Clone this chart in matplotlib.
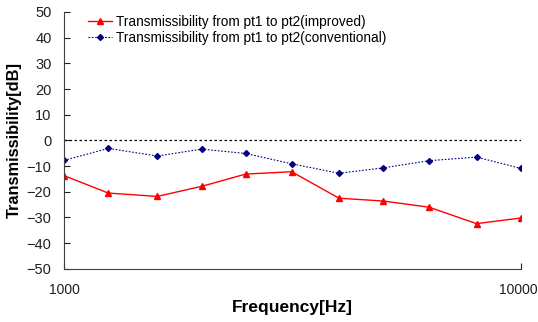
import matplotlib
matplotlib.use("Agg")
import matplotlib.pyplot as plt
import matplotlib.transforms as mtransforms
from matplotlib.ticker import FixedLocator, NullLocator

plt.rcParams['font.family'] = ['Liberation Sans', 'DejaVu Sans']

freq = [1000, 1250, 1600, 2000, 2500, 3150, 4000, 5000, 6300, 8000, 10000]
improved = [-13.7, -20.5, -21.8, -17.9, -13.1, -12.2, -22.5, -23.6, -26.0, -32.4, -30.2]
conventional = [-7.8, -3.1, -6.1, -3.4, -5.1, -9.1, -12.8, -10.7, -7.9, -6.5, -10.9]

fig = plt.figure(figsize=(5.38, 3.22), dpi=100)
ax = fig.add_axes([0.119, 0.165, 0.849, 0.798])

ax.axhline(0, color='black', linestyle=(0, (2, 2)), linewidth=0.9)
ax.plot(freq, improved, color='#ff0000', linewidth=1.0, marker='^', markersize=4,
        label='Transmissibility from pt1 to pt2(improved)')
ax.plot(freq, conventional, color='#000080', linewidth=0.8, linestyle=(0, (1.5, 1.5)),
        marker='D', markersize=3, label='Transmissibility from pt1 to pt2(conventional)')

ax.set_xscale('log')
ax.set_xlim(1000, 10000)
ax.set_ylim(-50, 50)
ax.xaxis.set_major_locator(FixedLocator([1000, 10000]))
ax.xaxis.set_minor_locator(NullLocator())
ax.set_xticklabels(['1000', '10000'])
ax.set_yticks(range(-50, 51, 10))

for side in ['top', 'right']:
    ax.spines[side].set_visible(False)
for side in ['left', 'bottom']:
    ax.spines[side].set_color('#404040')
ax.tick_params(axis='both', direction='in', length=4, colors='#202020')
ax.tick_params(axis='x', pad=10, labelsize=10)
ax.tick_params(axis='y', pad=9, labelsize=10.5)

# keep the right tick label inside the figure
shift = mtransforms.ScaledTranslation(-2 / 72, 0, fig.dpi_scale_trans)
lbl = ax.get_xticklabels()[-1]
lbl.set_transform(lbl.get_transform() + shift)

ax.set_xlabel('Frequency[Hz]', fontsize=12.5, fontweight='bold', labelpad=2)
ax.set_ylabel('Transmissibility[dB]', fontsize=11.8, fontweight='bold')
ax.yaxis.set_label_coords(-0.092, 0.5)

ax.legend(loc='upper left', bbox_to_anchor=(0.025, 1.035), frameon=False, fontsize=9.8,
          handlelength=1.8, handletextpad=0.3, labelspacing=0.15)

fig.savefig('out.png', dpi=100)
